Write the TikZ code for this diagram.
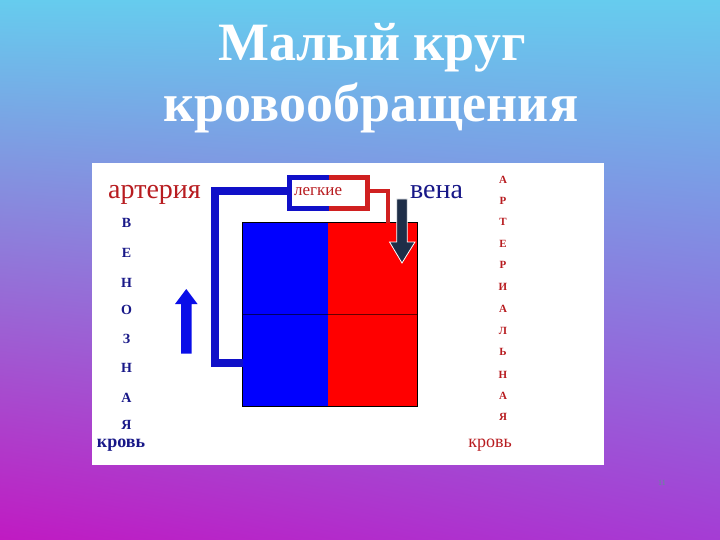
\documentclass[tikz,border=0pt]{standalone}
\usepackage{fontspec}
\setmainfont{Liberation Serif}
\usetikzlibrary{shadings}
\definecolor{bgtop}{RGB}{102,204,238}
\definecolor{bgbl}{RGB}{192,26,194}
\definecolor{bgbr}{RGB}{165,60,212}
\definecolor{pipeblue}{RGB}{16,16,200}
\definecolor{pipered}{RGB}{208,32,32}
\definecolor{heartblue}{RGB}{0,0,255}
\definecolor{heartred}{RGB}{255,0,0}
\definecolor{navy}{RGB}{24,24,136}
\definecolor{dred}{RGB}{184,28,32}
\definecolor{darrow}{RGB}{30,46,72}
\definecolor{uparrow}{RGB}{10,14,232}
\definecolor{pnum}{RGB}{90,150,140}
\begin{document}
\begin{tikzpicture}[x=1pt,y=-1pt,
  titletext/.style={text=white,font=\fontsize{54}{54}\selectfont\bfseries,anchor=base,inner sep=0},
  bluepipe/.style={draw=pipeblue,line width=8pt,line join=miter},
  redpipe/.style={draw=pipered,line width=4pt,line join=miter},
  heartpart/.style={draw=none,minimum height=183pt,inner sep=0},
  vletter/.style={text=navy,font=\fontsize{14}{14}\selectfont\bfseries,inner sep=0},
  aletter/.style={text=dred,font=\fontsize{11}{11}\selectfont\bfseries,inner sep=0},
  bigword/.style={font=\fontsize{28}{28}\selectfont,anchor=base,inner sep=0},
  lungsbox/.style={draw=none,minimum width=78pt,minimum height=31pt,inner sep=0}]
\useasboundingbox (0,0) rectangle (720,540);
\shade[upper left=bgtop,upper right=bgtop,lower left=bgbl,lower right=bgbr] (0,0) rectangle (720,540);
% title
\node[titletext] (t1) at (372,61) {Малый круг};
\node[titletext] (t2) at (371,122) {кровообращения};
% panel
\fill[white] (92,163) rectangle (604,465);
% heart
\node[heartpart,fill=heartblue,minimum width=85pt] (hb) at (285.5,314.5) {};
\node[heartpart,fill=heartred,minimum width=89pt] (hr) at (372.5,314.5) {};
\draw[black,line width=1pt] (hb.north west) rectangle (hr.south east);
\draw[black,opacity=0.6,line width=1.2pt] (hb.west) -- (hr.east);
% lungs
\node[lungsbox] (lg) at (328.5,193) {};
\draw[pipeblue,line width=5pt] (lg.north) -- (lg.north west) -- (lg.south west) -- (lg.south);
\draw[pipered,line width=5pt] (lg.north) -- (lg.north east) -- (lg.south east) -- (lg.south);
\node[text=dred,font=\fontsize{17}{17}\selectfont,anchor=base west,inner sep=0] (lgt) at (294,195.5) {легкие};
% pipes
\coordinate (bp1) at (214.5,362.8);
\coordinate (bp2) at (214.5,191);
\draw[bluepipe] (hb.west |- bp1) -- (bp1) -- (bp2) -- (lg.west |- bp2);
\coordinate (rp) at (388,191.5);
\draw[redpipe] (lg.east |- rp) -- (rp) -- (rp |- hr.north);
% arrows
\draw[fill=darrow,draw=white,line width=0.8pt] (396.7,199) -- (407.3,199) -- (407.3,242) -- (415,242) -- (402,263) -- (389.5,242) -- (396.7,242) -- cycle;
\fill[uparrow] (181,353.5) -- (191.7,353.5) -- (191.7,304) -- (197.5,304) -- (186.3,289) -- (175,304) -- (181,304) -- cycle;
% words
\node[bigword,text=dred] (art) at (154.5,199) {артерия};
\node[bigword,text=navy] (vena) at (436.5,199) {вена};
\node[text=navy,font=\fontsize{18}{18}\selectfont\bfseries,anchor=base,inner sep=0] (kl) at (121,447) {кровь};
\node[text=dred,font=\fontsize{18}{18}\selectfont,anchor=base,inner sep=0] (kr) at (490,447) {кровь};
% letters
\foreach [count=\i] \l/\yy in {В/223,Е/253,Н/283,О/310,З/338.5,Н/368,А/398,Я/425}
  \node[vletter] (vl\i) at (126.5,\yy) {\l};
\foreach [count=\i] \l/\yy in {А/179.5,Р/201,Т/222,Е/244,Р/265,И/287,А/309,Л/331,Ь/352,Н/374.5,А/396,Я/417}
  \node[aletter] (al\i) at (503,\yy) {\l};
% page number
\node[text=pnum,font=\fontsize{8}{8}\selectfont,inner sep=0] (pn) at (662,483) {11};
\end{tikzpicture}
\end{document}
